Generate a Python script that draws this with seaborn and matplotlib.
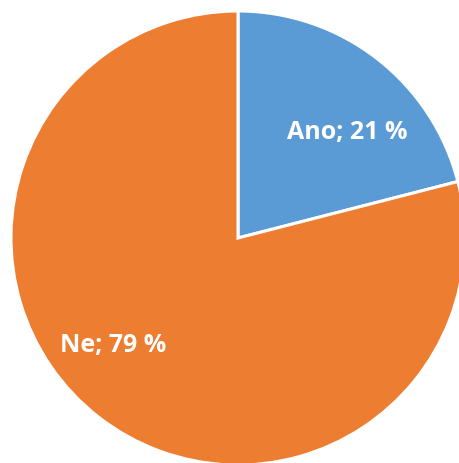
import matplotlib
matplotlib.use("Agg")
import matplotlib.pyplot as plt
import seaborn as sns

# Data
categories = ["Ano", "Ne"]
shares = [21, 79]
colors = ["#5B9BD5", "#ED7D31"]

sns.set_theme(style="white")
plt.rcParams['font.family'] = ['Open Sans', 'DejaVu Sans']

fig = plt.figure(figsize=(4.6, 4.64), dpi=100)
ax = fig.add_axes([11 / 460, -2 / 464, 454 / 460, 454 / 464])

wedges, _ = ax.pie(
    shares,
    colors=sns.color_palette(colors),
    startangle=90,
    counterclock=False,
    radius=1.0,
    wedgeprops=dict(edgecolor="white", linewidth=2.2),
)
for w in wedges:
    w.set_clip_on(False)

# Label placement (Excel-like)
label_pos = [(0.48, 0.47), (-0.55, -0.47)]
for name, val, (lx, ly) in zip(categories, shares, label_pos):
    ax.text(lx, ly, f"{name}; {val} %", ha="center", va="center",
            color="white", fontsize=18, fontweight="bold")

ax.set_xlim(-1, 1)
ax.set_ylim(-1, 1)
ax.set_aspect("auto")
ax.axis("off")

fig.savefig("out.png", dpi=100)
